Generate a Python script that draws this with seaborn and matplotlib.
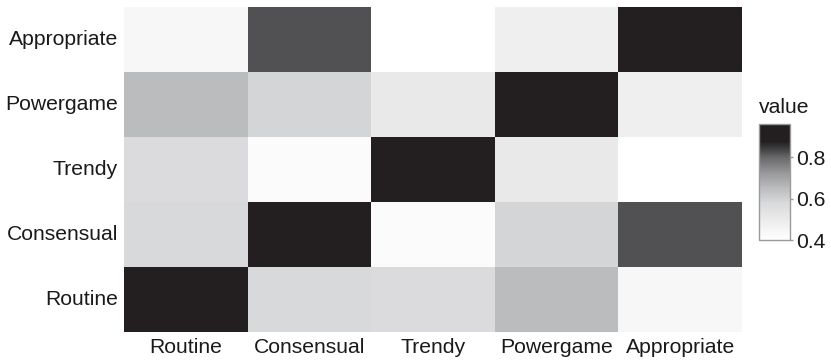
import numpy as np
import pandas as pd
import matplotlib
matplotlib.use("Agg")
import matplotlib.pyplot as plt
from matplotlib.colors import LinearSegmentedColormap
import seaborn as sns

# Category order: columns left to right, rows top to bottom
col_labels = ["Routine", "Consensual", "Trendy", "Powergame", "Appropriate"]
row_labels = ["Appropriate", "Powergame", "Trendy", "Consensual", "Routine"]

# Similarity values, one list per row (in column order)
appropriate = [0.44, 0.82, 0.40, 0.48, 0.96]
powergame = [0.65, 0.59, 0.51, 0.96, 0.48]
trendy = [0.57, 0.42, 0.96, 0.51, 0.40]
consensual = [0.58, 0.96, 0.42, 0.59, 0.82]
routine = [0.96, 0.58, 0.57, 0.65, 0.44]

vmin, vmax = 0.40, 0.96
cbar_ticks = [0.4, 0.6, 0.8]

df = pd.DataFrame([appropriate, powergame, trendy, consensual, routine],
                  index=row_labels, columns=col_labels)

# Grey ramp: white at the low end, near-black from ~0.875 upward
nodes = [
    (0.40, "#ffffff"),
    (0.45, "#f5f5f5"),
    (0.50, "#ebebec"),
    (0.58, "#d8d9db"),
    (0.65, "#bbbcbe"),
    (0.72, "#9a9a9c"),
    (0.80, "#68686a"),
    (0.82, "#525254"),
    (0.875, "#231f20"),
    (0.96, "#231f20"),
]
cmap = LinearSegmentedColormap.from_list(
    "greys_ramp", [((v - vmin) / (vmax - vmin), c) for v, c in nodes])

sns.set_theme(style="white")
plt.rcParams["font.family"] = ["Liberation Sans", "DejaVu Sans"]
text_color = "#1a1a1a"
fs = 15.2

W, H = 831, 360
fig = plt.figure(figsize=(W / 100, H / 100), dpi=100)
ax = fig.add_axes([124 / W, (H - 332) / H, (742 - 124) / W, (332 - 7) / H])
cax = fig.add_axes([759 / W, (H - 240) / H, 31 / W, (240 - 124) / H])

sns.heatmap(df, ax=ax, cmap=cmap, vmin=vmin, vmax=vmax, cbar_ax=cax,
            cbar_kws={"ticks": cbar_ticks}, linewidths=0)

ax.tick_params(axis="both", length=0, labelsize=fs, colors=text_color, pad=4.5)
ax.set_xticklabels(col_labels, rotation=0)
ax.set_yticklabels(row_labels, rotation=0)
ax.set_xlabel("")
ax.set_ylabel("")
for s in ax.spines.values():
    s.set_visible(False)

cbar = ax.collections[0].colorbar
cbar.outline.set_edgecolor("#9a9a9a")
cbar.outline.set_linewidth(1.0)
cax.tick_params(axis="y", length=2.5, width=1, color="#9a9a9a",
                labelsize=fs, labelcolor=text_color, pad=2)
cax.set_yticklabels([f"{t:.1f}" for t in cbar_ticks])
fig.text(759 / W, (H - 98) / H, "value", ha="left", va="top",
         fontsize=fs, color=text_color)

fig.savefig("out.png", dpi=100, facecolor="white")
